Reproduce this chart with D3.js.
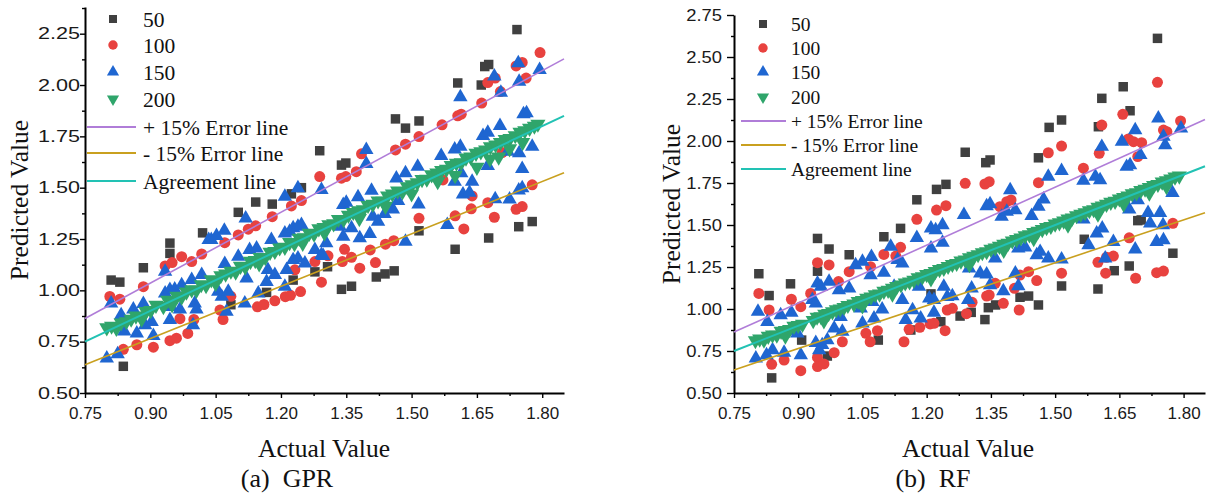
<!DOCTYPE html>
<html>
<head>
<meta charset="utf-8">
<script src="https://cdn.jsdelivr.net/npm/d3@7"></script>
<style>
body{margin:0;background:#fff;}
svg{display:block;}
.tick text{font-family:"Liberation Sans",Arial,sans-serif;fill:#1a1a1a;}
.ttl{font-family:"Liberation Serif","Times New Roman",serif;fill:#111;}
</style>
</head>
<body>
<svg width="1206" height="495"></svg>
<script>
var seriesNames = ['50', '100', '150', '200'];
var lineNames = ['+ 15% Error line', '- 15% Error line', 'Agreement line'];
var lineFactors = [1.15, 0.85, 1.0];
var xTicks = [0.75, 0.90, 1.05, 1.20, 1.35, 1.50, 1.65, 1.80];
var yTicksGpr = [0.50, 0.75, 1.00, 1.25, 1.50, 1.75, 2.00, 2.25];
var yTicksRf = [0.50, 0.75, 1.00, 1.25, 1.50, 1.75, 2.00, 2.25, 2.50, 2.75];

// GPR
var gpr50 = [[0.81,1.05],[0.83,1.04],[0.838,0.63],[0.884,1.11],[0.945,1.23],[0.945,1.18],[1.02,1.28],[1.085,0.93],[1.102,1.38],[1.142,1.43],[1.167,0.99],[1.18,1.42],[1.224,1.47],[1.228,1.05],[1.247,1.50],[1.278,1.09],[1.289,1.68],[1.307,1.115],[1.339,1.005],[1.339,1.61],[1.349,1.62],[1.362,1.02],[1.419,1.065],[1.439,1.08],[1.46,1.095],[1.463,1.835],[1.486,1.79],[1.517,1.825],[1.517,1.29],[1.60,1.20],[1.606,2.01],[1.66,2.0],[1.668,2.09],[1.677,2.10],[1.677,1.255],[1.742,2.27],[1.746,1.31],[1.777,1.335]];
var gpr100 = [[0.807,0.97],[0.83,0.957],[0.838,0.713],[0.869,0.735],[0.884,1.018],[0.907,0.723],[0.934,1.119],[0.945,0.755],[0.95,1.135],[0.96,0.767],[0.968,0.862],[0.972,1.164],[0.986,0.79],[0.995,1.14],[1.0,0.858],[1.018,1.177],[1.06,0.904],[1.067,0.858],[1.071,1.232],[1.085,0.971],[1.102,1.27],[1.125,1.298],[1.142,1.314],[1.146,0.92],[1.161,0.931],[1.18,1.359],[1.186,0.949],[1.21,0.969],[1.222,0.976],[1.224,1.411],[1.232,1.10],[1.245,0.994],[1.247,1.437],[1.278,1.14],[1.289,1.554],[1.293,1.04],[1.308,1.168],[1.339,1.546],[1.341,1.14],[1.346,1.2],[1.349,1.554],[1.362,1.161],[1.373,1.578],[1.381,1.108],[1.385,1.665],[1.405,1.197],[1.417,1.135],[1.44,1.225],[1.459,1.242],[1.463,1.684],[1.486,1.712],[1.517,1.749],[1.517,1.351],[1.57,1.806],[1.572,1.538],[1.60,1.363],[1.606,1.85],[1.614,1.858],[1.62,1.299],[1.637,1.397],[1.639,1.46],[1.661,1.912],[1.675,2.012],[1.675,1.427],[1.69,1.356],[1.692,2.034],[1.704,1.968],[1.708,1.671],[1.74,2.093],[1.74,1.395],[1.754,2.11],[1.754,1.408],[1.763,2.034],[1.777,1.514],[1.795,2.158]];
var gpr150 = [[0.80,0.669],[0.81,0.937],[0.825,0.69],[0.833,0.88],[0.84,0.80],[0.861,0.908],[0.869,0.791],[0.884,0.934],[0.888,0.831],[0.903,0.847],[0.907,0.778],[0.934,0.986],[0.934,1.091],[0.945,1.002],[0.945,0.856],[0.947,0.92],[0.956,1.005],[0.968,0.908],[0.972,1.026],[0.995,1.051],[0.998,0.831],[1.002,0.937],[1.006,0.908],[1.018,1.075],[1.034,1.246],[1.04,1.246],[1.052,1.265],[1.056,0.994],[1.064,0.969],[1.07,1.291],[1.071,1.129],[1.075,0.896],[1.079,0.994],[1.102,1.164],[1.117,0.937],[1.119,1.351],[1.121,1.059],[1.128,1.197],[1.144,1.205],[1.148,0.986],[1.167,1.042],[1.17,1.10],[1.178,1.246],[1.186,1.075],[1.209,1.278],[1.209,1.018],[1.209,1.457],[1.213,1.10],[1.22,1.286],[1.228,1.148],[1.228,1.303],[1.239,1.156],[1.239,1.31],[1.239,1.498],[1.247,1.319],[1.255,1.132],[1.278,1.197],[1.293,1.173],[1.293,1.489],[1.297,1.168],[1.304,1.23],[1.335,1.31],[1.343,1.262],[1.343,1.416],[1.35,1.427],[1.362,1.303],[1.377,1.454],[1.381,1.254],[1.396,1.684],[1.396,1.616],[1.404,1.275],[1.408,1.486],[1.411,1.359],[1.423,1.335],[1.438,1.372],[1.457,1.395],[1.465,1.546],[1.469,1.436],[1.486,1.571],[1.486,1.237],[1.514,1.603],[1.516,1.419],[1.568,1.655],[1.582,1.319],[1.599,1.687],[1.599,1.53],[1.612,1.70],[1.612,1.941],[1.614,1.571],[1.618,1.468],[1.633,1.476],[1.639,1.53],[1.664,1.753],[1.675,1.768],[1.675,1.606],[1.69,2.042],[1.692,1.445],[1.703,1.801],[1.705,1.963],[1.721,1.676],[1.725,1.443],[1.745,2.107],[1.746,1.487],[1.747,1.668],[1.747,2.017],[1.754,1.498],[1.754,1.592],[1.757,1.858],[1.764,1.863],[1.777,1.70],[1.794,2.074]];
var gpr200 = [[0.800,0.818],[0.811,0.826],[0.822,0.815],[0.833,0.842],[0.845,0.848],[0.856,0.860],[0.867,0.875],[0.879,0.870],[0.890,0.898],[0.901,0.902],[0.913,0.928],[0.930,0.922],[0.940,0.952],[0.950,0.945],[0.961,0.972],[0.972,0.968],[0.983,0.992],[0.995,1.003],[1.006,1.001],[1.017,1.028],[1.028,1.024],[1.040,1.052],[1.051,1.047],[1.062,1.072],[1.073,1.080],[1.085,1.094],[1.096,1.090],[1.107,1.118],[1.118,1.114],[1.130,1.142],[1.141,1.146],[1.152,1.160],[1.164,1.160],[1.175,1.186],[1.186,1.190],[1.197,1.207],[1.209,1.210],[1.220,1.233],[1.231,1.228],[1.242,1.254],[1.254,1.257],[1.265,1.278],[1.276,1.275],[1.287,1.300],[1.299,1.307],[1.310,1.320],[1.321,1.325],[1.332,1.346],[1.344,1.345],[1.355,1.366],[1.366,1.380],[1.378,1.388],[1.389,1.393],[1.400,1.414],[1.411,1.420],[1.423,1.436],[1.434,1.434],[1.445,1.460],[1.456,1.470],[1.468,1.484],[1.479,1.480],[1.490,1.505],[1.501,1.515],[1.513,1.524],[1.524,1.540],[1.535,1.542],[1.546,1.563],[1.558,1.572],[1.569,1.584],[1.580,1.590],[1.591,1.608],[1.603,1.620],[1.614,1.622],[1.625,1.645],[1.636,1.650],[1.648,1.668],[1.659,1.675],[1.670,1.684],[1.681,1.700],[1.693,1.709],[1.704,1.720],[1.715,1.735],[1.726,1.740],[1.738,1.754],[1.749,1.770],[1.760,1.778],[1.771,1.790],[1.782,1.800],[1.790,1.810],[1.650,1.600],[1.700,1.650],[1.725,1.690],[1.600,1.560],[1.755,1.720],[1.680,1.640],[1.560,1.530],[1.500,1.470],[1.440,1.410],[1.380,1.350],[1.300,1.280],[1.250,1.230],[1.150,1.130],[1.050,1.035],[0.950,0.930],[0.880,0.860]];

// RF
var rf50 = [[0.808,1.21],[0.832,1.08],[0.838,0.59],[0.882,1.15],[0.908,0.815],[0.945,1.42],[0.945,1.225],[0.968,0.72],[0.972,1.357],[1.019,1.323],[1.087,0.815],[1.10,1.43],[1.139,1.48],[1.163,0.875],[1.177,1.65],[1.21,1.09],[1.223,1.712],[1.233,0.924],[1.245,1.742],[1.278,0.958],[1.29,1.933],[1.304,0.98],[1.336,0.937],[1.338,1.871],[1.344,1.008],[1.348,1.887],[1.361,1.024],[1.418,1.07],[1.438,1.077],[1.461,1.90],[1.461,1.024],[1.486,2.081],[1.515,2.125],[1.515,1.137],[1.568,1.415],[1.60,1.119],[1.601,2.085],[1.609,2.254],[1.638,1.228],[1.659,2.323],[1.673,1.256],[1.675,2.18],[1.693,1.526],[1.701,1.53],[1.739,2.611],[1.775,1.332]];
var rf100 = [[0.808,1.093],[0.832,0.994],[0.838,0.671],[0.867,0.696],[0.884,1.058],[0.906,1.014],[0.906,0.633],[0.929,1.093],[0.945,1.276],[0.945,0.712],[0.945,0.657],[0.96,0.673],[0.972,1.262],[0.984,0.74],[0.994,1.163],[1.003,0.805],[1.019,1.222],[1.058,0.855],[1.068,0.805],[1.069,1.252],[1.085,0.871],[1.10,1.325],[1.128,1.315],[1.139,1.367],[1.147,0.805],[1.159,0.879],[1.177,1.534],[1.184,0.891],[1.208,0.911],[1.217,0.915],[1.223,1.589],[1.243,0.871],[1.245,1.615],[1.248,0.994],[1.26,1.004],[1.29,1.748],[1.293,0.972],[1.306,1.04],[1.336,1.744],[1.34,1.077],[1.346,1.758],[1.346,1.083],[1.36,1.153],[1.371,1.609],[1.379,1.034],[1.387,1.639],[1.397,1.649],[1.405,1.123],[1.416,0.994],[1.418,1.202],[1.438,1.222],[1.457,1.169],[1.461,1.752],[1.484,1.93],[1.515,1.97],[1.515,1.213],[1.566,1.838],[1.6,1.278],[1.603,1.927],[1.609,2.095],[1.618,1.213],[1.62,1.308],[1.636,1.315],[1.658,2.159],[1.671,2.012],[1.673,1.424],[1.683,1.996],[1.688,1.183],[1.693,1.907],[1.702,1.99],[1.737,1.216],[1.739,2.349],[1.753,1.226],[1.753,2.065],[1.761,2.055],[1.775,1.51],[1.793,2.119]];
var rf150 = [[0.801,0.706],[0.806,0.984],[0.826,0.726],[0.828,0.924],[0.84,0.756],[0.859,0.964],[0.867,0.74],[0.884,0.978],[0.89,0.871],[0.898,0.855],[0.906,0.726],[0.933,1.054],[0.941,1.034],[0.941,0.799],[0.945,1.153],[0.949,0.756],[0.953,1.133],[0.956,0.786],[0.968,0.815],[0.972,1.163],[0.984,0.885],[0.995,1.113],[0.999,0.954],[1.003,0.865],[1.019,1.123],[1.034,1.262],[1.046,1.004],[1.05,1.282],[1.05,0.915],[1.069,1.202],[1.071,1.311],[1.073,1.043],[1.077,0.945],[1.096,0.998],[1.10,1.216],[1.116,1.371],[1.124,1.133],[1.132,1.292],[1.143,1.272],[1.143,1.054],[1.151,0.935],[1.167,0.994],[1.177,1.424],[1.182,1.133],[1.186,0.945],[1.206,1.064],[1.21,1.48],[1.21,1.361],[1.217,1.054],[1.217,0.978],[1.221,1.47],[1.237,1.50],[1.237,1.395],[1.24,1.133],[1.248,1.073],[1.26,1.077],[1.287,1.56],[1.297,1.054],[1.299,1.242],[1.305,1.123],[1.325,1.213],[1.34,1.613],[1.34,1.207],[1.348,1.625],[1.348,1.143],[1.36,1.302],[1.375,1.55],[1.379,1.107],[1.387,1.58],[1.395,1.708],[1.407,1.589],[1.407,1.213],[1.414,1.361],[1.414,1.137],[1.43,1.367],[1.445,1.554],[1.457,1.321],[1.461,1.609],[1.465,1.341],[1.473,1.653],[1.484,1.788],[1.484,1.302],[1.515,1.823],[1.515,1.296],[1.566,1.764],[1.566,1.534],[1.578,1.381],[1.594,1.788],[1.597,1.451],[1.605,1.768],[1.609,1.966],[1.61,1.48],[1.617,1.302],[1.636,1.40],[1.656,1.996],[1.667,1.847],[1.673,1.593],[1.675,1.857],[1.687,2.065],[1.687,1.355],[1.693,1.649],[1.699,1.917],[1.717,1.573],[1.722,1.51],[1.737,1.40],[1.741,2.135],[1.745,1.573],[1.752,1.50],[1.753,2.026],[1.753,1.41],[1.757,1.976],[1.774,1.692],[1.794,2.075]];
var rf200 = [[0.800,0.812],[0.810,0.822],[0.820,0.816],[0.830,0.838],[0.840,0.846],[0.850,0.845],[0.860,0.868],[0.870,0.872],[0.880,0.878],[0.890,0.898],[0.900,0.903],[0.910,0.910],[0.935,0.932],[0.944,0.952],[0.953,0.955],[0.962,0.970],[0.971,0.974],[0.980,0.984],[0.989,0.996],[0.998,1.000],[1.007,1.010],[1.016,1.022],[1.030,1.030],[1.040,1.046],[1.050,1.052],[1.060,1.064],[1.070,1.072],[1.080,1.086],[1.090,1.090],[1.100,1.106],[1.110,1.112],[1.120,1.124],[1.130,1.134],[1.140,1.144],[1.150,1.156],[1.160,1.162],[1.170,1.172],[1.180,1.186],[1.190,1.192],[1.200,1.206],[1.210,1.212],[1.220,1.224],[1.230,1.236],[1.240,1.242],[1.250,1.254],[1.260,1.266],[1.270,1.272],[1.280,1.286],[1.290,1.292],[1.300,1.306],[1.310,1.314],[1.320,1.324],[1.330,1.336],[1.340,1.342],[1.350,1.356],[1.360,1.364],[1.370,1.374],[1.380,1.386],[1.390,1.392],[1.400,1.406],[1.410,1.414],[1.420,1.424],[1.430,1.436],[1.440,1.442],[1.450,1.456],[1.460,1.464],[1.470,1.474],[1.480,1.486],[1.490,1.492],[1.500,1.506],[1.510,1.514],[1.520,1.524],[1.530,1.536],[1.540,1.542],[1.550,1.556],[1.560,1.564],[1.570,1.574],[1.580,1.586],[1.590,1.592],[1.600,1.606],[1.610,1.614],[1.620,1.624],[1.630,1.636],[1.640,1.642],[1.650,1.656],[1.660,1.664],[1.670,1.674],[1.680,1.686],[1.690,1.692],[1.700,1.706],[1.710,1.714],[1.720,1.724],[1.730,1.736],[1.740,1.742],[1.750,1.756],[1.760,1.764],[1.770,1.774],[1.780,1.786],[1.790,1.792],[0.870,0.840],[0.960,0.930],[1.050,1.020],[1.120,1.090],[1.210,1.180],[1.300,1.265],[1.380,1.350],[1.450,1.420],[1.530,1.500],[1.600,1.565],[1.660,1.625],[1.720,1.690],[1.760,1.730]];

var colors = ['#404040', '#e8423f', '#1f66d1', '#2fa56b'];
var lineColors = ['#b07dd8', '#c9a01f', '#22c2b4'];
var markSize = [90, 95, 90, 100];
var legSize = [64, 70, 64, 64];

var svg = d3.select('svg');

function symbolPath(i, size) {
  var type = i === 0 ? d3.symbolSquare : i === 1 ? d3.symbolCircle : d3.symbolTriangle;
  return d3.symbol().type(type).size(size)();
}

function drawPanel(p) {
  var x = d3.scaleLinear().domain([0.75, 1.85]).range([p.left, p.right]);
  var y = d3.scaleLinear().domain(p.yDomain).range([p.bottom, p.top]);
  var g = svg.append('g');

  var xMinor = d3.pairs(xTicks, (a, b) => (a + b) / 2);
  var yMinor = d3.pairs(p.yTicks, (a, b) => (a + b) / 2);
  var yLast = p.yTicks[p.yTicks.length - 1] + 0.125;
  if (yLast <= p.yDomain[1]) yMinor.push(yLast);

  g.append('g').attr('transform', `translate(0,${p.bottom})`)
    .call(d3.axisBottom(x).tickValues(xMinor).tickSize(3).tickFormat('').tickSizeOuter(0))
    .call(a => a.select('.domain').remove());
  g.append('g').attr('transform', `translate(${p.left},0)`)
    .call(d3.axisLeft(y).tickValues(yMinor).tickSize(3).tickFormat('').tickSizeOuter(0))
    .call(a => a.select('.domain').remove());

  var xa = g.append('g').attr('transform', `translate(0,${p.bottom})`)
    .call(d3.axisBottom(x).tickValues(xTicks).tickFormat(d3.format('.2f')).tickSize(5).tickPadding(9).tickSizeOuter(0));
  xa.selectAll('text').style('font-size', '17px');

  var ya = g.append('g').attr('transform', `translate(${p.left},0)`)
    .call(d3.axisLeft(y).tickValues(p.yTicks).tickFormat(d3.format('.2f')).tickSize(p.yTickLen).tickSizeOuter(0));
  ya.selectAll('text')
    .attr('x', null)
    .attr('transform', `translate(${-p.yLabelGap},0) scale(${p.yLabelStretch},1)`)
    .style('font-size', '16px');

  g.selectAll('.domain').attr('stroke', '#000').attr('stroke-width', 2);
  g.selectAll('.tick line').attr('stroke', '#000').attr('stroke-width', 1.4);

  // points
  p.series.forEach(function (data, i) {
    g.append('g').selectAll('path')
      .data(data)
      .join('path')
      .attr('d', symbolPath(i, markSize[i]))
      .attr('transform', d => `translate(${x(d[0])},${y(d[1])})` + (i === 3 ? ' rotate(180)' : ''))
      .attr('fill', colors[i]);
  });

  // error / agreement lines
  lineFactors.forEach(function (f, i) {
    g.append('path')
      .datum([0.75, 1.85])
      .attr('d', d3.line().x(d => x(d)).y(d => y(d * f)))
      .attr('fill', 'none')
      .attr('stroke', lineColors[i])
      .attr('stroke-width', i === 2 ? 2 : 1.6);
  });

  // legend
  var leg = g.append('g');
  seriesNames.forEach(function (name, i) {
    var yy = p.legY[i];
    leg.append('path')
      .attr('d', symbolPath(i, legSize[i]))
      .attr('transform', `translate(${p.legSymX},${yy})` + (i === 3 ? ' rotate(180)' : ''))
      .attr('fill', colors[i]);
    leg.append('text').attr('class', 'ttl')
      .attr('x', p.legTextX).attr('y', yy).attr('dy', '0.35em')
      .style('font-size', p.legFont + 'px')
      .text(name);
  });
  lineNames.forEach(function (name, i) {
    var yy = p.legY[4 + i];
    leg.append('line')
      .attr('x1', p.legLine[0]).attr('x2', p.legLine[1])
      .attr('y1', yy).attr('y2', yy)
      .attr('stroke', lineColors[i]).attr('stroke-width', 2);
    leg.append('text').attr('class', 'ttl')
      .attr('x', p.legTextX).attr('y', yy).attr('dy', '0.35em')
      .style('font-size', p.legFont + 'px')
      .text(name);
  });

  // titles
  g.append('text').attr('class', 'ttl')
    .attr('x', p.xTitle[0]).attr('y', p.xTitle[1])
    .attr('text-anchor', 'middle').style('font-size', '25.5px')
    .text('Actual Value');
  g.append('text').attr('class', 'ttl')
    .attr('transform', `translate(${p.yTitle[0]},${p.yTitle[1]}) rotate(-90)`)
    .attr('text-anchor', 'middle').style('font-size', '25.5px')
    .text('Predicted Value');
  g.append('text').attr('class', 'ttl')
    .attr('x', p.caption[0]).attr('y', p.caption[1])
    .attr('text-anchor', 'middle').style('font-size', '26px')
    .style('white-space', 'pre')
    .text(p.captionText);
}

drawPanel({
  left: 85, right: 564, top: 7, bottom: 393,
  yDomain: [0.5, 2.38], yTicks: yTicksGpr, yTickLen: 5, yLabelGap: 5, yLabelStretch: 1.35,
  series: [gpr50, gpr100, gpr150, gpr200],
  legSymX: 113, legTextX: 143, legLine: [87, 136], legFont: 21.5,
  legY: [19, 45, 72, 99, 127, 153, 181],
  xTitle: [324, 457], yTitle: [28, 200],
  caption: [287, 487], captionText: '(a)  GPR'
});

drawPanel({
  left: 734, right: 1205, top: 15, bottom: 393,
  yDomain: [0.5, 2.75], yTicks: yTicksRf, yTickLen: 7, yLabelGap: 12, yLabelStretch: 1.15,
  series: [rf50, rf100, rf150, rf200],
  legSymX: 763, legTextX: 791, legLine: [741, 786], legFont: 19.5,
  legY: [24, 48, 72, 97, 121, 145, 169],
  xTitle: [968, 457], yTitle: [680, 204],
  caption: [933, 487], captionText: '(b)  RF'
});
</script>
</body>
</html>
